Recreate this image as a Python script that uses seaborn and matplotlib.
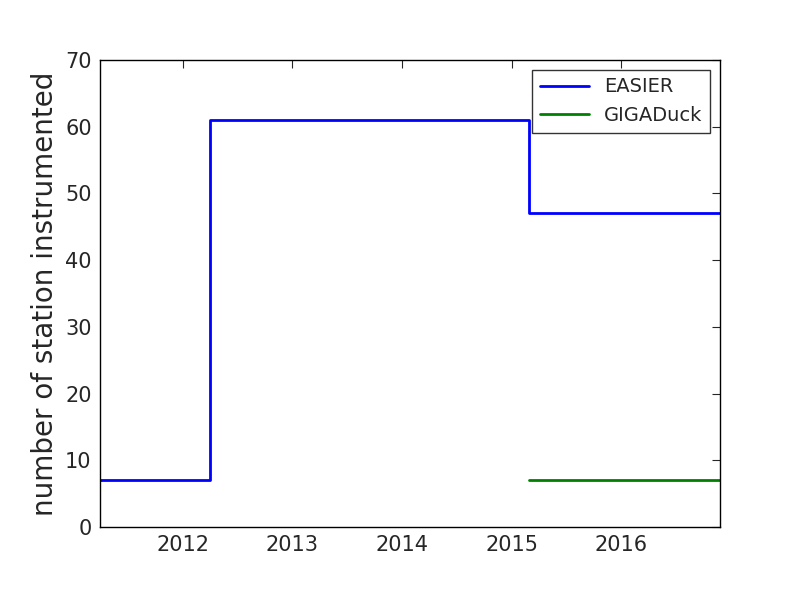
import numpy as np
import pandas as pd
import matplotlib
matplotlib.use("Agg")
from matplotlib import pyplot as plt
import seaborn as sns

# step change dates (decimal years) and station counts
easier_time = [2011.245, 2012.245, 2015.155, 2016.9]
easier_count = [7, 61, 47, 47]
giga_time = [2015.155, 2016.9]
giga_count = [7, 7]
year_ticks = [2012, 2013, 2014, 2015, 2016]

sns.set_style("white")
plt.rcParams["font.family"] = ["DejaVu Sans"]

df = pd.concat([
    pd.DataFrame({"time": easier_time, "count": easier_count, "network": "EASIER"}),
    pd.DataFrame({"time": giga_time, "count": giga_count, "network": "GIGADuck"}),
])

fig = plt.figure(figsize=(8, 6), dpi=100)
ax = fig.add_axes([0.125, 0.1217, 0.775, 0.7783])
sns.lineplot(data=df, x="time", y="count", hue="network",
             palette={"EASIER": "#0000ff", "GIGADuck": "#008000"},
             drawstyle="steps-post", linewidth=2, ax=ax, estimator=None, sort=False)

ax.set_xlim(2011.245, 2016.9)
ax.set_ylim(0, 70)
ax.set_xticks(year_ticks)
ax.set_xticklabels([str(y) for y in year_ticks])
ax.set_yticks(range(0, 71, 10))
ax.tick_params(direction="in", labelsize=15, length=6, top=True, right=True, pad=6)
ax.set_xlabel("")
ax.set_ylabel("number of station instrumented", fontsize=20)
for s in ax.spines.values():
    s.set_color("black")
    s.set_linewidth(1)

leg = ax.legend(loc="upper right", fontsize=14, fancybox=False, edgecolor="black",
                handlelength=2.5)
leg.get_frame().set_linewidth(1)

fig.savefig("out.png", dpi=100)
